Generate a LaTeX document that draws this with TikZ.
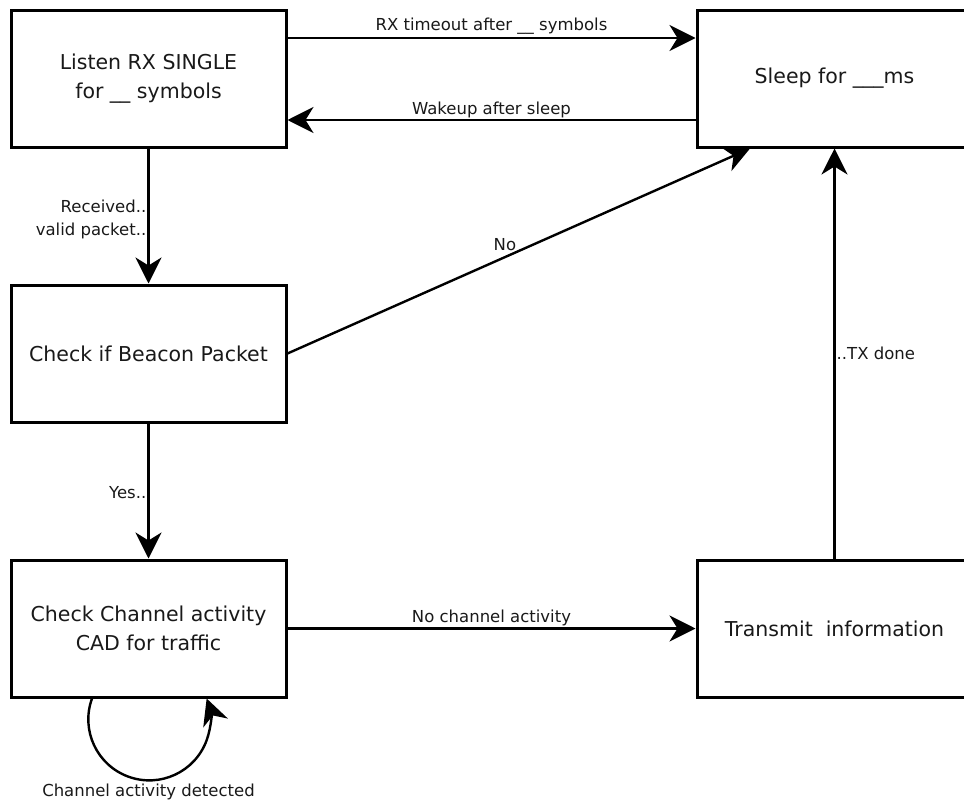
\documentclass[tikz,border=0pt]{standalone}
\usepackage{fontspec}
\setmainfont{DejaVu Sans}
\usetikzlibrary{arrows.meta}

\tikzset{
    state/.style={draw, line width=3pt, minimum width=275pt, minimum height=137pt,
        align=center, font=\fontsize{20.5}{28.5}\selectfont, text=black!90},
    flow/.style={line width=2.4pt, -{Stealth[length=26pt, width=26pt, inset=8pt]}},
    lbl/.style={font=\fontsize{16.5}{23}\selectfont, text=black!90, inner sep=2pt}
}

\begin{document}
\begin{tikzpicture}[x=1pt, y=-1pt]
    \clip (0,0) rectangle (964,803);

    % Estados
    \node[state] (listen)   at (148.5,78.5)  {Listen RX SINGLE\\for \_\_ symbols};
    \node[state] (sleep)    at (834.5,78.5)  {Sleep for \_\_\_ms};
    \node[state] (beacon)   at (148.5,353.5) {Check if Beacon Packet};
    \node[state] (cad)      at (148.5,628.5) {Check Channel activity\\CAD for traffic};
    \node[state] (transmit) at (834.5,628.5) {Transmit\ \ information};

    % Transicoes
    \draw[flow] ([yshift=40.5pt]listen.east) -- ([yshift=40.5pt]sleep.west)
        node[lbl, midway, above] {RX timeout after \_\_ symbols};
    \draw[flow] ([yshift=-41.5pt]sleep.west) -- ([yshift=-41.5pt]listen.east)
        node[lbl, midway, above, inner sep=1pt] {Wakeup after sleep};
    \draw[flow] (listen.south) -- (beacon.north)
        node[lbl, midway, left, inner sep=1pt, align=right, yshift=-3pt] {Received..\\valid packet..};
    \draw[flow] (beacon.east) -- ([xshift=-84.5pt]sleep.south)
        node[lbl, pos=0.47, above=3pt] {No};
    \draw[flow] (beacon.south) -- (cad.north)
        node[lbl, midway, left, inner sep=1pt, yshift=-2pt] {Yes..};
    \draw[flow] (cad.east) -- (transmit.west)
        node[lbl, midway, above, inner sep=1pt] {No channel activity};
    \draw[flow] (transmit.north) -- (sleep.south)
        node[lbl, midway, right, inner sep=1pt] {..TX done};

    % Laco de CAD
    \draw[flow] ([xshift=-56.5pt]cad.south) arc[start angle=200, end angle=-20, radius=61];
    \node[lbl] (busy) at (148.5,792) {Channel activity detected};
\end{tikzpicture}
\end{document}
